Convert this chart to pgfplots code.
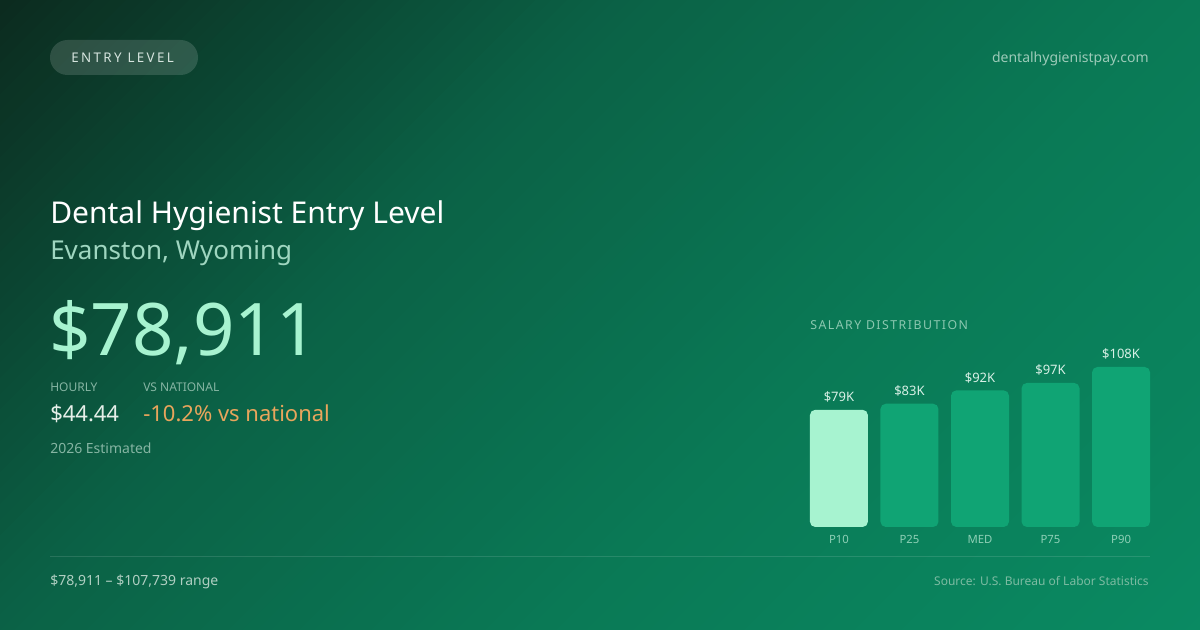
\documentclass[border=0pt]{standalone}
\usepackage{pgfplots}
\pgfplotsset{compat=1.18}
\usepackage{fontspec}
\setmainfont{Noto Sans}
\newfontfamily\spaced[LetterSpace=18]{Noto Sans}
\newfontfamily\spacedb[LetterSpace=12]{Noto Sans}

\definecolor{bgA}{HTML}{0C2A1E}
\definecolor{bgB}{HTML}{0B6246}
\definecolor{bgC}{HTML}{0A7A56}
\definecolor{bgD}{HTML}{0A8A62}
\definecolor{mint}{HTML}{A7F3D0}
\definecolor{barc}{HTML}{10A474}
\definecolor{subc}{HTML}{9FD6C0}
\definecolor{labc}{HTML}{86B5A3}
\definecolor{hourc}{HTML}{E6EFE9}
\definecolor{orng}{HTML}{E8A55C}
\definecolor{urlc}{HTML}{9CCAB8}
\definecolor{srcc}{HTML}{7CBBA2}
\definecolor{rangec}{HTML}{B0CFC2}
\definecolor{pilltxt}{HTML}{D6E4DE}
\definecolor{tickc}{HTML}{8ED0B6}
\definecolor{valc}{HTML}{D8F0E6}
\definecolor{headc}{HTML}{8CC8B0}

% diagonal background band: x+y from #1 to #2, colour #3 to #4 (pixel units)
\newcommand\bgband[4]{%
  \foreach \i in {0,...,39}{%
    \pgfmathsetmacro\sa{#1+(#2-#1)/40*\i}%
    \pgfmathsetmacro\sb{#1+(#2-#1)/40*(\i+1)+1.5}%
    \pgfmathtruncatemacro\pc{100-(\i+0.5)*2.5}%
    \fill[#3!\pc!#4] (\sa,0) -- (\sb,0) -- (\sb-630,630) -- (\sa-630,630) -- cycle;
  }}

\begin{document}
\begin{tikzpicture}
\path[use as bounding box] (0,0) rectangle (900pt,-472.5pt);

\begin{scope}[x=0.75pt,y=-0.75pt]
  \clip (0,0) rectangle (1200,630);
  \bgband{0}{630}{bgA}{bgB}
  \bgband{630}{1200}{bgB}{bgC}
  \bgband{1200}{1831}{bgC}{bgD}
\end{scope}

\begin{scope}[x=0.75pt,y=-0.75pt,every node/.style={inner sep=0pt}]
  % pill
  \fill[white,fill opacity=0.14,rounded corners=13.1pt] (50,40) rectangle (198,75);
  \node[anchor=base west,text=pilltxt,font=\spaced\fontsize{10}{12}\selectfont] at (71,62.5) {ENTRY LEVEL};
  \node[anchor=base east,text=urlc,font=\fontsize{10.5}{12}\selectfont] at (1149,62.5) {dentalhygienistpay.com};

  \node[anchor=base west,text=white,font=\fontsize{22.5}{27}\selectfont] at (50,224) {Dental Hygienist Entry Level};
  \node[anchor=base west,text=subc,font=\fontsize{19.5}{23}\selectfont] at (50,260) {Evanston, Wyoming};
  \node[anchor=base west,text=mint,font=\fontsize{54.4}{60}\selectfont] at (49,356) {\$78,911};

  \node[anchor=base west,text=labc,font=\fontsize{9}{11}\selectfont] at (50,392) {HOURLY};
  \node[anchor=base west,text=labc,font=\fontsize{9}{11}\selectfont] at (143,392) {VS NATIONAL};
  \node[anchor=base west,text=hourc,font=\fontsize{16.5}{19}\selectfont] at (50,421.5) {\$44.44};
  \node[anchor=base west,text=orng,font=\fontsize{16.5}{19}\selectfont] at (143,421.5) {-10.2\% vs national};
  \node[anchor=base west,text=labc,font=\fontsize{10.5}{12}\selectfont] at (50,454) {2026 Estimated};

  \draw[white,draw opacity=0.12,line width=0.75pt] (50,556.5) -- (1150,556.5);
  \node[anchor=base west,text=rangec,font=\fontsize{10.5}{12}\selectfont] at (50,586) {\$78,911 – \$107,739 range};
  \node[anchor=base east,text=srcc,font=\fontsize{9}{11}\selectfont] at (1149,585.5) {Source: U.S. Bureau of Labor Statistics};

  \node[anchor=base west,text=headc,font=\spacedb\fontsize{9.25}{11}\selectfont] at (810,330) {SALARY DISTRIBUTION};
\end{scope}

\begin{axis}[
  at={(607.5pt,-395.25pt)}, anchor=south west,
  scale only axis, width=255pt, height=120pt,
  xmin=-0.41, xmax=4.41, ymin=0, ymax=107.739,
  enlargelimits=false, clip=false,
  axis line style={draw=none}, major tick length=0pt,
  ytick=\empty, xtick={0,1,2,3,4},
  xticklabels={P10,P25,MED,P75,P90},
  xticklabel style={font=\fontsize{8.5}{10}\selectfont, text=tickc, anchor=base, yshift=-12.5pt, inner sep=0pt},
  /pgf/number format/assume math mode=true,
  nodes near coords={\$\pgfmathprintnumber[fixed,precision=0]{\pgfplotspointmeta}K},
  every node near coord/.append style={font=\fontsize{9.75}{11}\selectfont, text=valc, anchor=base, yshift=6pt, inner sep=0pt},
]
\addplot[ybar, bar width=43.5pt, bar shift=0pt, fill=mint, draw=none, rounded corners=4pt]
  coordinates {(0,78.911)};
\addplot[ybar, bar width=43.5pt, bar shift=0pt, fill=barc, draw=none, rounded corners=4pt]
  coordinates {(1,83) (2,92) (3,97) (4,107.739)};
\end{axis}
\end{tikzpicture}
\end{document}
